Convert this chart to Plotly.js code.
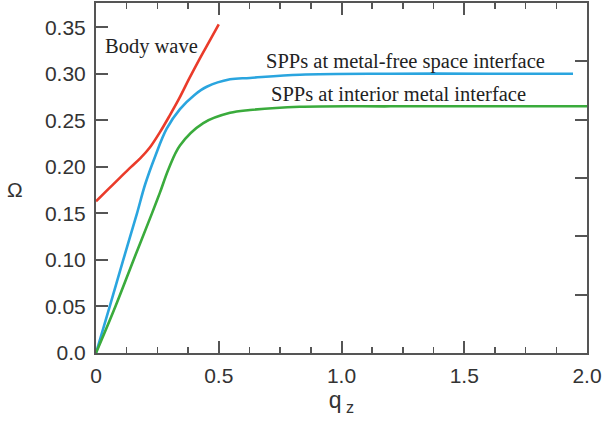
<!DOCTYPE html>
<html>
<head>
<meta charset="utf-8">
<script src="https://cdn.plot.ly/plotly-3.0.1.min.js"></script>
<style>html,body{margin:0;padding:0;background:#fff;}#chart{width:608px;height:423px;}</style>
</head>
<body>
<div id="chart"></div>
<script>
// Body wave (red)
const bodyQ = [0, 0.05, 0.1, 0.143, 0.18, 0.22, 0.26, 0.30, 0.34, 0.38, 0.42, 0.46, 0.5];
const bodyW = [0.163, 0.176, 0.189, 0.200, 0.209, 0.221, 0.237, 0.255, 0.274, 0.295, 0.315, 0.334, 0.353];
// SPPs at metal-free space interface (blue)
const freeQ = [0, 0.056, 0.111, 0.167, 0.2, 0.242, 0.288, 0.342, 0.4, 0.451, 0.546, 0.627, 0.831, 1.2, 1.6, 1.943];
const freeW = [0, 0.05, 0.10, 0.15, 0.181, 0.212, 0.241, 0.262, 0.277, 0.286, 0.294, 0.2955, 0.299, 0.300, 0.300, 0.300];
// SPPs at interior metal interface (green)
const intQ = [0, 0.079, 0.153, 0.228, 0.26, 0.296, 0.342, 0.437, 0.546, 0.627, 0.83, 1.2, 1.6, 2.0];
const intW = [0, 0.05, 0.10, 0.15, 0.172, 0.198, 0.223, 0.247, 0.258, 0.261, 0.2645, 0.265, 0.265, 0.265];

const xTickVals = [0, 0.5, 1.0, 1.5, 2.0];
const xTickText = ['0', '0.5', '1.0', '1.5', '2.0'];
const yTickVals = [0, 0.05, 0.10, 0.15, 0.20, 0.25, 0.30, 0.35];
const yTickText = ['0.0', '0.05', '0.10', '0.15', '0.20', '0.25', '0.30', '0.35'];
const rightTickVals = [1, 2, 3, 4, 5];

const axisColor = '#555';
const tickFont = {family: 'Liberation Sans, Arial, sans-serif', size: 21, color: '#333'};

const traces = [
  {x: bodyQ, y: bodyW, mode: 'lines', line: {color: '#ea3b2a', width: 2.6, shape: 'spline', smoothing: 1}, showlegend: false, hoverinfo: 'skip'},
  {x: freeQ, y: freeW, mode: 'lines', line: {color: '#2aa5df', width: 2.6, shape: 'spline', smoothing: 1}, showlegend: false, hoverinfo: 'skip'},
  {x: intQ, y: intW, mode: 'lines', line: {color: '#3aab3c', width: 2.6, shape: 'spline', smoothing: 1}, showlegend: false, hoverinfo: 'skip'},
  {x: [null], y: [null], xaxis: 'x', yaxis: 'y2', mode: 'lines', showlegend: false, hoverinfo: 'skip'}
];

const annFont = {family: 'Liberation Serif, Times New Roman, serif', size: 20.5, color: '#222'};

const layout = {
  width: 608, height: 423,
  margin: {l: 96, r: 21, t: 3, b: 70},
  paper_bgcolor: '#fff', plot_bgcolor: '#fff',
  showlegend: false,
  xaxis: {
    range: [0, 2], tickmode: 'array', tickvals: xTickVals, ticktext: xTickText,
    ticks: 'inside', ticklen: 12, tickwidth: 2, tickcolor: axisColor,
    showline: true, linecolor: axisColor, linewidth: 2, mirror: 'ticks',
    showgrid: false, zeroline: false, tickfont: tickFont, ticklabelstandoff: 3,
    minor: {dtick: 0.125, tick0: 0, ticks: 'inside', ticklen: 6, tickwidth: 1.5, tickcolor: axisColor, showgrid: false},
    title: {text: 'q<sub> z</sub>', font: {family: 'Liberation Sans, Arial, sans-serif', size: 23, color: '#333'}, standoff: 4}
  },
  yaxis: {
    range: [0, 0.376], tickmode: 'array', tickvals: yTickVals, ticktext: yTickText,
    ticks: 'inside', ticklen: 12, tickwidth: 2, tickcolor: axisColor,
    showline: true, linecolor: axisColor, linewidth: 2, mirror: true,
    showgrid: false, zeroline: false, tickfont: tickFont, ticklabelstandoff: 4
  },
  yaxis2: {
    overlaying: 'y', side: 'right', range: [0, 6], tickmode: 'array', tickvals: rightTickVals,
    ticks: 'inside', ticklen: 12, tickwidth: 2, tickcolor: axisColor,
    showticklabels: false, showline: false, showgrid: false, zeroline: false
  },
  annotations: [
    {text: 'Body wave', x: 0.028, y: 0.329, xref: 'x', yref: 'y', xanchor: 'left', yanchor: 'middle', showarrow: false, font: annFont},
    {text: 'SPPs at metal-free space interface', x: 0.686, y: 0.313, xref: 'x', yref: 'y', xanchor: 'left', yanchor: 'middle', showarrow: false, font: annFont},
    {text: 'SPPs at interior metal interface', x: 0.703, y: 0.2785, xref: 'x', yref: 'y', xanchor: 'left', yanchor: 'middle', showarrow: false, font: annFont},
    {text: 'Ω', x: -0.165, y: 0.466, xref: 'paper', yref: 'paper', xanchor: 'center', yanchor: 'middle', showarrow: false, font: {family: 'Liberation Sans, Arial, sans-serif', size: 21, color: '#333'}}
  ]
};

Plotly.newPlot('chart', traces, layout, {staticPlot: true, displayModeBar: false});
</script>
</body>
</html>
